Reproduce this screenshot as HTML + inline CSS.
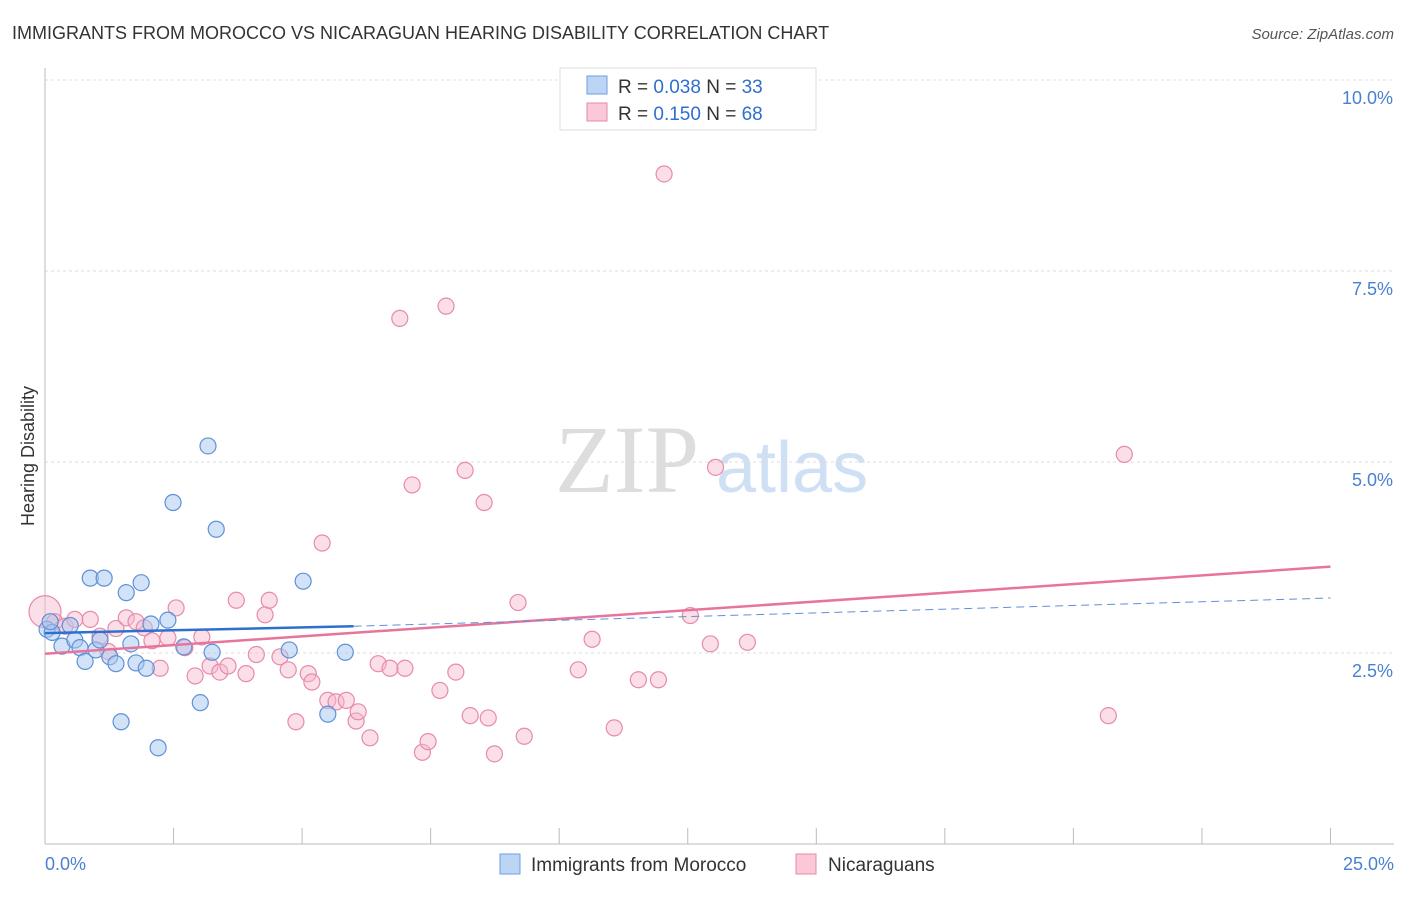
<!DOCTYPE html>
<html><head><meta charset="utf-8"><style>
body{margin:0;background:#fff;font-family:"Liberation Sans",sans-serif;}
</style></head><body>
<svg id="chart" width="1406" height="892" xmlns="http://www.w3.org/2000/svg" font-family="Liberation Sans, sans-serif">
<text x="12" y="39" font-size="18" fill="#333">IMMIGRANTS FROM MOROCCO VS NICARAGUAN HEARING DISABILITY CORRELATION CHART</text>
<text x="1394" y="39" font-size="15" fill="#555" text-anchor="end" font-style="italic">Source: ZipAtlas.com</text>
<text x="555" y="492" font-size="96" fill="#ddd" font-family="Liberation Serif, serif">ZIP</text>
<text x="716" y="492" font-size="72" fill="#cfe0f5">atlas</text>
<g id="grid"></g>
<g id="axes"></g>
<g id="marks"></g>
<text transform="translate(34,456) rotate(-90)" font-size="18" fill="#333" text-anchor="middle">Hearing Disability</text>
<g>
<rect x="560" y="68" width="256" height="62" fill="#fff" stroke="#ddd"/>
<rect x="587" y="76" width="20" height="18" fill="#bcd5f5" stroke="#6f9fdc"/>
<rect x="587" y="103" width="20" height="18" fill="#fac8d7" stroke="#e88aa8"/>
<text x="618" y="93" font-size="19" fill="#333">R = <tspan fill="#2f6fd0">0.038</tspan>   N = <tspan fill="#2f6fd0">33</tspan></text>
<text x="618" y="120" font-size="19" fill="#333">R =  <tspan fill="#2f6fd0">0.150</tspan>   N = <tspan fill="#2f6fd0">68</tspan></text>
</g>
<g>
<rect x="500" y="854" width="20" height="20" fill="#bcd5f5" stroke="#6f9fdc"/>
<text x="531" y="871" font-size="19" fill="#333">Immigrants from Morocco</text>
<rect x="796" y="854" width="20" height="20" fill="#fac8d7" stroke="#e88aa8"/>
<text x="828" y="871" font-size="19" fill="#333">Nicaraguans</text>
</g>
</svg>
<script>
const xTicks=[0,2.5,5,7.5,10,12.5,15,17.5,20,22.5,25];
const yTicks=[2.5,5.0,7.5,10.0];
const yTickLabels=["2.5%","5.0%","7.5%","10.0%"];
const moroccoX=[0.04,0.14,0.33,0.49,0.58,0.68,0.78,0.88,0.99,1.07,1.15,1.26,1.38,1.48,1.58,1.67,1.77,1.87,1.97,2.06,2.2,2.39,2.49,2.7,3.02,3.17,3.25,3.33,4.75,5.02,5.5,5.84,0.1];
const moroccoY=[2.81,2.77,2.59,2.86,2.67,2.57,2.39,3.48,2.54,2.67,3.48,2.45,2.36,1.6,3.29,2.62,2.37,3.42,2.3,2.88,1.26,2.93,4.47,2.58,1.85,5.21,2.51,4.12,2.54,3.44,1.7,2.51,2.91];
const nicX=[0,0.19,0.39,0.58,0.88,1.07,1.23,1.38,1.58,1.77,1.93,2.08,2.24,2.39,2.55,2.72,2.92,3.05,3.21,3.4,3.56,3.72,3.91,4.11,4.28,4.36,4.57,4.73,4.88,5.12,5.19,5.39,5.5,5.66,5.86,6.05,6.09,6.32,6.48,6.71,6.9,7.0,7.14,7.34,7.45,7.68,7.8,7.99,8.17,8.27,8.54,8.62,8.74,9.2,9.32,10.37,10.64,11.07,11.54,11.93,12.04,12.55,12.94,13.04,13.66,20.68,20.99];
const nicY=[3.04,2.91,2.85,2.94,2.94,2.72,2.52,2.82,2.96,2.91,2.83,2.66,2.3,2.7,3.09,2.57,2.2,2.71,2.33,2.25,2.33,3.19,2.23,2.48,3.0,3.19,2.45,2.28,1.6,2.23,2.12,3.94,1.88,1.86,1.88,1.61,1.73,1.39,2.36,2.3,6.88,2.3,4.7,1.2,1.34,2.01,7.04,2.25,4.89,1.68,4.47,1.65,1.18,3.16,1.41,2.28,2.68,1.52,2.15,2.15,8.77,2.99,2.62,4.93,2.64,1.68,5.1];
const X=v=>45+v*51.42, Y=v=>844-v*76.4;
const NS="http://www.w3.org/2000/svg";
function mk(p,t,a){const e=document.createElementNS(NS,t);for(const k in a)e.setAttribute(k,a[k]);p.appendChild(e);return e;}
const grid=document.getElementById('grid'),axes=document.getElementById('axes'),marks=document.getElementById('marks');
yTicks.forEach((v,i)=>{
 const l=mk(grid,'line',{x1:45,x2:1394,y1:Y(v),y2:Y(v),stroke:'#ddd','stroke-dasharray':'3,3'});
 
 
 const t=mk(axes,'text',{x:1393,y:Y(v)+24,'font-size':18,fill:'#4a80d0','text-anchor':'end'});t.textContent=yTickLabels[i];
 
 
});
const tl=mk(grid,'line',{x1:45,x2:1394,y1:80,y2:80,stroke:'#ddd','stroke-dasharray':'3,3'});


const xa=mk(axes,'line',{x1:45,x2:1394,y1:844,y2:844,stroke:'#bbb'});


const ya=mk(axes,'line',{x1:45,x2:45,y1:68,y2:844,stroke:'#bbb'});


xTicks.forEach(v=>{const l=mk(axes,'line',{x1:X(v),x2:X(v),y1:828,y2:844,stroke:'#bbb'});
 
 });
[[0,"0.0%",'start',45],[25,"25.0%",'end',1394]].forEach(a=>{const t=mk(axes,'text',{x:a[3],y:870,'font-size':18,fill:'#4a80d0','text-anchor':a[2]});t.textContent=a[1];
 
 });
nicX.forEach((v,i)=>{const c=mk(marks,'circle',{cx:X(v),cy:Y(nicY[i]),r:i==0?16:8,fill:'#f6b8cb','fill-opacity':0.45,stroke:'#e88aa8','stroke-width':1.2});
 
 });
moroccoX.forEach((v,i)=>{const c=mk(marks,'circle',{cx:X(v),cy:Y(moroccoY[i]),r:8,fill:'#a8c8f0','fill-opacity':0.5,stroke:'#5f90d8','stroke-width':1.2});
 
 });
const pl=mk(marks,'line',{x1:X(0),y1:Y(2.49),x2:X(25),y2:Y(3.63),stroke:'#e8749c','stroke-width':2.5});


const bl=mk(marks,'line',{x1:X(0),y1:Y(2.76),x2:X(6.0),y2:Y(2.85),stroke:'#2f6fd0','stroke-width':2.5});


const bd=mk(marks,'line',{x1:X(6.0),y1:Y(2.85),x2:X(25),y2:Y(3.22),stroke:'#5f90d8','stroke-width':1,'stroke-dasharray':'8,5'});


</script>
</body></html>
